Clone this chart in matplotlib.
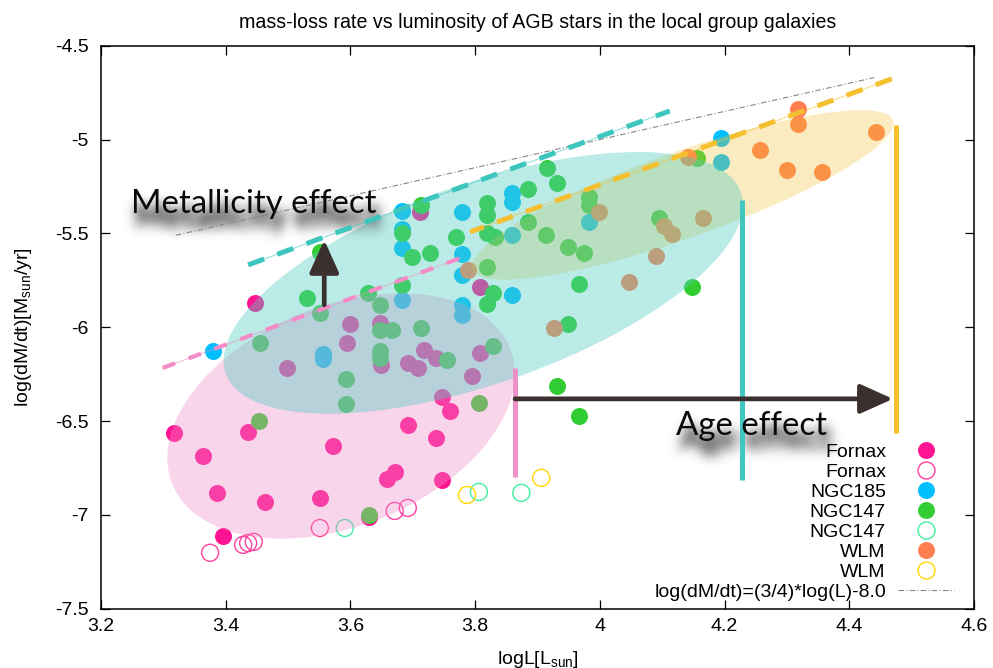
import numpy as np
import matplotlib
matplotlib.use('Agg')
import matplotlib.pyplot as plt
import matplotlib.patches as mpatches
import matplotlib.transforms as mtransforms
from matplotlib.figure import Figure
from matplotlib.backends.backend_agg import FigureCanvasAgg
from matplotlib.lines import Line2D

plt.rcParams['font.family'] = ['Liberation Sans', 'DejaVu Sans']
plt.rcParams['mathtext.default'] = 'regular'
plt.rcParams['axes.unicode_minus'] = False

# --- data (logL, log dM/dt) ---
fornax_x = [3.447, 3.317, 3.364, 3.436, 3.572, 3.386, 3.463, 3.551, 3.692, 3.737,
            3.747, 3.760, 3.671, 3.659, 3.747, 3.396, 3.630, 3.498, 3.599, 3.594,
            3.647, 3.649, 3.692, 3.708, 3.718, 3.737, 3.795, 3.808, 3.808, 3.712]
fornax_y = [-5.871, -6.563, -6.686, -6.558, -6.633, -6.883, -6.931, -6.910, -6.521, -6.590,
            -6.372, -6.447, -6.772, -6.809, -6.814, -7.112, -7.011, -6.217, -5.982, -6.085,
            -5.978, -6.202, -6.192, -6.218, -6.122, -6.164, -6.260, -6.137, -5.785, -5.386]

fornax_open_x = [3.375, 3.428, 3.436, 3.445, 3.551, 3.671, 3.692]
fornax_open_y = [-7.202, -7.160, -7.150, -7.144, -7.070, -6.979, -6.963]

ngc185_x = [3.380, 3.556, 3.556, 3.683, 3.683, 3.683, 3.683, 3.779, 3.779, 3.779,
            3.779, 3.779, 3.859, 3.859, 3.859, 3.859, 3.983, 4.194, 4.194]
ngc185_y = [-6.127, -6.143, -6.170, -5.856, -5.382, -5.478, -5.579, -5.386, -5.610, -5.722,
            -5.881, -5.935, -5.285, -5.333, -5.508, -5.828, -5.440, -4.991, -5.119]

ngc147_x = [3.713, 3.683, 3.699, 3.683, 3.728, 3.769, 3.819, 3.819, 3.885, 3.915,
            3.931, 3.819, 3.832, 3.885, 3.914, 3.819, 3.829, 3.819, 3.983, 3.983,
            3.949, 3.975, 3.967, 3.949, 4.095, 4.156, 4.148, 3.931, 3.967, 3.551,
            3.530, 3.551, 3.628, 3.647, 3.455, 3.647, 3.667, 3.647, 3.647, 3.713,
            3.755, 3.829, 3.593, 3.593, 3.806, 3.453, 3.630]
ngc147_y = [-5.350, -5.498, -5.626, -5.775, -5.605, -5.520, -5.339, -5.403, -5.264, -5.152,
            -5.232, -5.498, -5.520, -5.439, -5.508, -5.679, -5.817, -5.876, -5.307, -5.350,
            -5.573, -5.605, -5.770, -5.983, -5.418, -5.099, -5.785, -6.313, -6.473, -5.599,
            -5.844, -5.924, -5.817, -5.881, -6.084, -6.015, -6.015, -6.127, -6.164, -6.004,
            -6.175, -6.100, -6.276, -6.409, -6.404, -6.499, -7.001]

ngc147_open_x = [3.591, 3.806, 3.874]
ngc147_open_y = [-7.070, -6.878, -6.883]

wlm_x = [3.789, 3.999, 4.047, 3.926, 4.103, 4.116, 4.165, 4.090, 4.141, 4.257,
         4.300, 4.356, 4.318, 4.318, 4.443]
wlm_y = [-5.696, -5.387, -5.760, -6.005, -5.460, -5.503, -5.418, -5.620, -5.093, -5.056,
         -5.162, -5.173, -4.837, -4.917, -4.960]

wlm_open_x = [3.787, 3.906]
wlm_open_y = [-6.894, -6.803]

# trend lines (x range, y range)
rel_x = [3.32, 4.44]
cyan_trend_x = [3.436, 4.112]
cyan_trend_y = [-5.668, -4.848]
pink_trend_x = [3.299, 3.776]
pink_trend_y = [-6.217, -5.632]
yellow_trend_x = [4.468, 3.792]
yellow_trend_y = [-4.677, -5.492]

xticks = [3.2, 3.4, 3.6, 3.8, 4.0, 4.2, 4.4, 4.6]
xtick_labels = ['3.2', '3.4', '3.6', '3.8', '4', '4.2', '4.4', '4.6']
yticks = [-7.5, -7.0, -6.5, -6.0, -5.5, -5.0, -4.5]
ytick_labels = ['-7.5', '-7', '-6.5', '-6', '-5.5', '-5', '-4.5']

C_PINK = '#ff1493'
C_PINK_OPEN = '#ff40a0'
C_BLUE = '#00bfff'
C_GREEN = '#32cd32'
C_GREEN_OPEN = '#40f0a0'
C_ORANGE = '#ff7f50'
C_GOLD = '#ffd700'
C_DARK = '#3a302e'
C_EL_PINK = '#f08cc8'
C_EL_CYAN = '#53cdc1'
C_EL_YELLOW = '#f5c030'
BIG_FONT = ['Lato', 'DejaVu Sans']

fig = plt.figure(figsize=(9.93, 6.68), dpi=100)
ax = fig.add_axes([0.1017, 0.0888, 0.8792, 0.8428])
ax.set_xlim(3.2, 4.6)
ax.set_ylim(-7.5, -4.5)

S = 150
ax.scatter(fornax_x, fornax_y, s=S, c=C_PINK, linewidths=0, zorder=2)
ax.scatter(fornax_open_x, fornax_open_y, s=S, facecolors='none', edgecolors=C_PINK_OPEN, linewidths=1, zorder=2)
ax.scatter(ngc185_x, ngc185_y, s=S, c=C_BLUE, linewidths=0, zorder=2)
ax.scatter(ngc147_x, ngc147_y, s=S, c=C_GREEN, linewidths=0, zorder=2)
ax.scatter(ngc147_open_x, ngc147_open_y, s=S, facecolors='none', edgecolors=C_GREEN_OPEN, linewidths=1, zorder=2)
ax.scatter(wlm_x, wlm_y, s=S, c=C_ORANGE, linewidths=0, zorder=2)
ax.scatter(wlm_open_x, wlm_open_y, s=S, facecolors='none', edgecolors=C_GOLD, linewidths=1, zorder=2)

# shaded regions (sizes in inches on screen, centred in data coords)
def add_ellipse(cx, cy, w, h, ang, color, alpha, z):
    tr = fig.dpi_scale_trans + mtransforms.ScaledTranslation(cx, cy, ax.transData)
    ax.add_patch(mpatches.Ellipse((0, 0), w, h, angle=ang, transform=tr,
                                  facecolor=color, edgecolor='none', alpha=alpha, zorder=z))

add_ellipse(3.585, -6.473, 3.64, 2.20, 22, C_EL_PINK, 0.36, 3)
add_ellipse(4.133, -5.295, 4.46, 0.86, 19.5, C_EL_YELLOW, 0.3, 3.1)
add_ellipse(3.813, -5.764, 5.46, 2.00, 19.4, C_EL_CYAN, 0.4, 3.2)

# relation line
rel_y = [0.75 * v - 8.0 for v in rel_x]
ax.plot(rel_x, rel_y, color='#888888', lw=0.8, dashes=(5, 2, 1, 2), zorder=4)

for tx, ty, col, lw, dsh in [(cyan_trend_x, cyan_trend_y, '#3cc6bd', 3.6, (3.4, 2.8)),
                             (pink_trend_x, pink_trend_y, '#f58cc8', 3.0, (3.2, 3.4)),
                             (yellow_trend_x, yellow_trend_y, '#f5c030', 3.6, (3.4, 2.8))]:
    ax.plot(tx, ty, color=col, lw=0.8, alpha=0.55, zorder=4)
    ax.plot(tx, ty, color=col, lw=lw, dashes=dsh, zorder=4)

# vertical bars
ax.plot([3.864, 3.864], [-6.217, -6.798], color='#f090c8', lw=3.6, solid_capstyle='butt', zorder=4)
ax.plot([4.228, 4.228], [-5.322, -6.814], color='#40c8c0', lw=3.6, solid_capstyle='butt', zorder=4)
ax.plot([4.475, 4.475], [-4.922, -6.563], color='#f5c02e', lw=3.6, solid_capstyle='butt', zorder=4)

# arrows
arrow_kw = dict(arrowstyle='-|>,head_length=1.0,head_width=0.45', mutation_scale=20,
                lw=3.4, color=C_DARK, shrinkA=0, shrinkB=0)
ax.annotate('', xy=(4.470, -6.382), xytext=(3.864, -6.382), arrowprops=arrow_kw, zorder=5)
ax.annotate('', xy=(3.558, -5.535), xytext=(3.558, -5.881), arrowprops=arrow_kw, zorder=5)


def blurred_shadow(text, x, y, size, dx=4, dy=-14, sigma=6, strength=0.55):
    # render the text alone, blur it, and lay it under the real text
    pad = 40
    w_px, h_px = 600, 160
    f2 = Figure(figsize=(w_px / 100, h_px / 100), dpi=100)
    FigureCanvasAgg(f2)
    f2.text(pad / w_px, pad / h_px, text, fontsize=size, family=BIG_FONT,
            va='baseline', ha='left', color='black')
    f2.canvas.draw()
    cover = 1 - np.asarray(f2.canvas.buffer_rgba())[:, :, 0].astype(float) / 255
    r = int(3 * sigma)
    k = np.exp(-0.5 * (np.arange(-r, r + 1) / sigma) ** 2)
    k /= k.sum()
    cover = np.apply_along_axis(lambda v: np.convolve(v, k, mode='same'), 0, cover)
    cover = np.apply_along_axis(lambda v: np.convolve(v, k, mode='same'), 1, cover)
    img = np.zeros((h_px, w_px, 4))
    img[..., :3] = 0.12
    img[..., 3] = cover / cover.max() * strength
    disp = ax.transData.transform((x, y))
    x0, y0 = disp[0] - pad + dx, disp[1] - pad + dy
    inv = ax.transData.inverted()
    left, bottom = inv.transform((x0, y0))
    right, top = inv.transform((x0 + w_px, y0 + h_px))
    ax.imshow(img, extent=[left, right, bottom, top], aspect='auto',
              interpolation='bilinear', zorder=3.5)


blurred_shadow('Metallicity effect', 3.248, -5.391, 23.7)
blurred_shadow('Age effect', 4.122, -6.574, 23.8)
ax.text(3.248, -5.391, 'Metallicity effect', fontsize=23.7, family=BIG_FONT,
        va='baseline', ha='left', color='#0a0a0a', zorder=6)
ax.text(4.122, -6.574, 'Age effect', fontsize=23.8, family=BIG_FONT,
        va='baseline', ha='left', color='#0a0a0a', zorder=6)

ax.set_xlim(3.2, 4.6)
ax.set_ylim(-7.5, -4.5)

# axes styling
ax.set_xticks(xticks)
ax.set_xticklabels(xtick_labels)
ax.set_yticks(yticks)
ax.set_yticklabels(ytick_labels)
ax.tick_params(direction='in', length=6.5, width=0.9, top=True, right=True, labelsize=14)
ax.tick_params(axis='x', pad=6.5)
ax.tick_params(axis='y', pad=9)
for sp in ax.spines.values():
    sp.set_linewidth(1.1)

ax.set_title('mass-loss rate vs luminosity of AGB stars in the local group galaxies', fontsize=14.1, pad=12.5)
ax.set_xlabel('logL[L$_{sun}$]', fontsize=14, labelpad=10)
ax.set_ylabel('log(dM/dt)[M$_{sun}$/yr]', fontsize=14, labelpad=15)

handles = [
    Line2D([], [], ls='none', marker='o', markersize=12.2, markerfacecolor=C_PINK, markeredgewidth=0),
    Line2D([], [], ls='none', marker='o', markersize=12.2, markerfacecolor='none', markeredgecolor=C_PINK_OPEN, markeredgewidth=1),
    Line2D([], [], ls='none', marker='o', markersize=12.2, markerfacecolor=C_BLUE, markeredgewidth=0),
    Line2D([], [], ls='none', marker='o', markersize=12.2, markerfacecolor=C_GREEN, markeredgewidth=0),
    Line2D([], [], ls='none', marker='o', markersize=12.2, markerfacecolor='none', markeredgecolor=C_GREEN_OPEN, markeredgewidth=1),
    Line2D([], [], ls='none', marker='o', markersize=12.2, markerfacecolor=C_ORANGE, markeredgewidth=0),
    Line2D([], [], ls='none', marker='o', markersize=12.2, markerfacecolor='none', markeredgecolor=C_GOLD, markeredgewidth=1),
    Line2D([], [], color='#888888', lw=0.8, dashes=(5, 2, 1, 2)),
]
labels = ['Fornax', 'Fornax', 'NGC185', 'NGC147', 'NGC147', 'WLM', 'WLM', 'log(dM/dt)=(3/4)*log(L)-8.0']
leg = ax.legend(handles, labels, loc='lower right', bbox_to_anchor=(0.977, 0.014), frameon=False,
                markerfirst=False, fontsize=14, labelspacing=0.12, handlelength=2.9,
                handletextpad=0.6, borderpad=0, borderaxespad=0)
leg.set_zorder(7)

fig.savefig('out.png', dpi=100)
